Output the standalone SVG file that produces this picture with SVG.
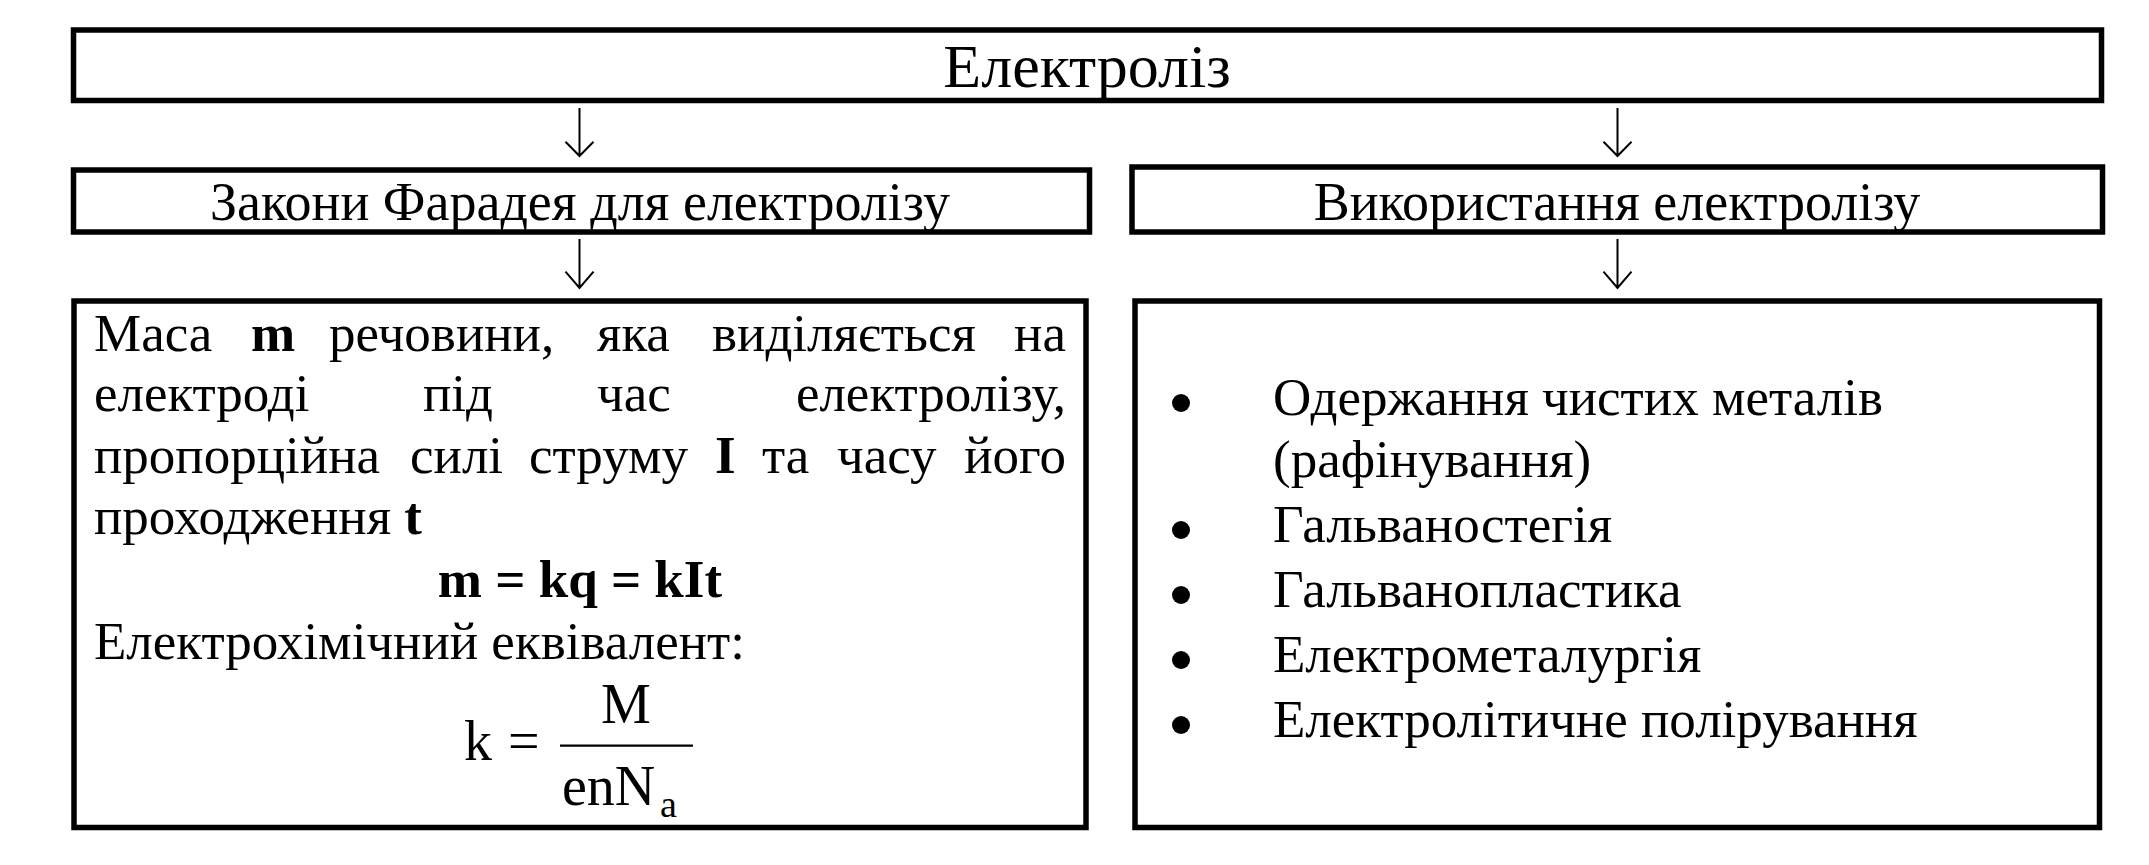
<svg xmlns="http://www.w3.org/2000/svg" width="2149" height="865" viewBox="0 0 2149 865">
<style>
.box{fill:#fff;stroke:#000;stroke-width:5.5}
.t{font-family:"Liberation Serif","Times New Roman",serif;fill:#000}
.title{font-size:62px}
.h2{font-size:54px}
.body{font-size:53px}
.f{font-size:56px}
.b{font-weight:bold}
.arrow{stroke:#000;stroke-width:2;fill:none}
</style>
<rect width="2149" height="865" fill="#fff"/>
<g id="node-electrolysis">
<rect class="box" x="73.5" y="30" width="2028" height="70.5"/>
<text class="t title" x="1087" y="87" text-anchor="middle">Електроліз</text>
</g>
<g id="node-faraday">
<rect class="box" x="73.5" y="170" width="1016" height="62"/>
<text class="t h2" x="580" y="220" text-anchor="middle">Закони Фарадея для електролізу</text>
</g>
<g id="node-usage">
<rect class="box" x="1132" y="167" width="970.5" height="65"/>
<text class="t h2" x="1617" y="220" text-anchor="middle">Використання електролізу</text>
</g>
<g id="node-laws">
<rect class="box" x="74" y="301" width="1012" height="526.5"/>
<text class="t body" y="351"><tspan x="94">Маса</tspan><tspan x="251" class="b">m</tspan><tspan x="329">речовини,</tspan><tspan x="597">яка</tspan><tspan x="712">виділяється</tspan></text>
<text class="t body" x="1066" y="351" text-anchor="end">на</text>
<text class="t body" y="411"><tspan x="94">електроді</tspan><tspan x="423">під</tspan><tspan x="597">час</tspan></text>
<text class="t body" x="1066" y="411" text-anchor="end">електролізу,</text>
<text class="t body" y="472.5"><tspan x="94">пропорційна</tspan><tspan x="410">силі</tspan><tspan x="529">струму</tspan><tspan x="715" class="b">I</tspan><tspan x="762">та</tspan><tspan x="837">часу</tspan></text>
<text class="t body" x="1066" y="472.5" text-anchor="end">його</text>
<text class="t body" x="94" y="533.5">проходження <tspan class="b">t</tspan></text>
<text class="t body b" x="580" y="597" text-anchor="middle">m = kq = kIt</text>
<text class="t body" x="94" y="658.5">Електрохімічний еквівалент:</text>
<text class="t f" x="464" y="760">k</text>
<text class="t f" x="508" y="760">=</text>
<line x1="560" y1="745.7" x2="693" y2="745.7" stroke="#000" stroke-width="2.3"/>
<text class="t f" x="626" y="723" text-anchor="middle">M</text>
<text class="t f" x="562" y="805">enN</text>
<text class="t" x="660" y="817" font-size="38">a</text>
</g>
<g id="node-applications">
<rect class="box" x="1135" y="301" width="964.5" height="526.5"/>
<circle cx="1181" cy="403" r="9"/>
<text class="t body" x="1273" y="415">Одержання чистих металів</text>
<text class="t body" x="1273" y="477">(рафінування)</text>
<circle cx="1181" cy="530" r="9"/>
<text class="t body" x="1273" y="542">Гальваностегія</text>
<circle cx="1181" cy="595" r="9"/>
<text class="t body" x="1273" y="607">Гальванопластика</text>
<circle cx="1181" cy="660" r="9"/>
<text class="t body" x="1273" y="672">Електрометалургія</text>
<circle cx="1181" cy="725" r="9"/>
<text class="t body" x="1273" y="737">Електролітичне полірування</text>
</g>
<g id="connectors">
<path class="arrow" d="M579.5 108V156M565.5 141.7L579.5 156L593.5 141.7"/>
<path class="arrow" d="M579.5 239V288M565.5 271.7L579.5 288L593.5 271.7"/>
<path class="arrow" d="M1617.5 108V156M1603.5 141.7L1617.5 156L1631.5 141.7"/>
<path class="arrow" d="M1617.5 239V288M1603.5 271.7L1617.5 288L1631.5 271.7"/>
</g>
</svg>
